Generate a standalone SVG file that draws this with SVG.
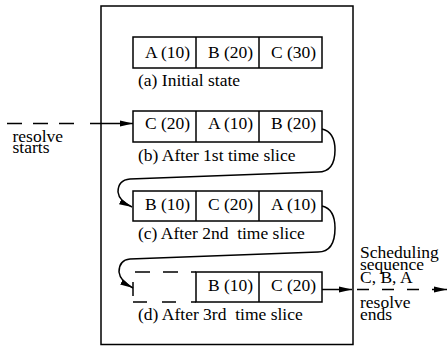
<svg xmlns="http://www.w3.org/2000/svg" width="447" height="347" viewBox="0 0 447 347">
<style>
  .t { font-family: "Liberation Serif", "Times New Roman", serif; font-size: 17.5px; fill: #000; }
  .c { text-anchor: middle; }
  .box { fill: #fff; stroke: #000; stroke-width: 1.5; }
  .ln { fill: none; stroke: #000; stroke-width: 1.5; }
</style>
<defs>
  <marker id="ah" markerWidth="13" markerHeight="7" refX="13" refY="3.5" orient="auto" markerUnits="userSpaceOnUse">
    <path d="M0,0.5 L13,3.5 L0,6.5 Z" fill="#000"/>
  </marker>
</defs>
<rect id="outer" x="101" y="6" width="252" height="338.5" class="box"/>

<g id="state-a">
  <rect x="133" y="37" width="189" height="31" class="box"/>
  <line x1="196" y1="37" x2="196" y2="68" class="ln"/>
  <line x1="259" y1="37" x2="259" y2="68" class="ln"/>
  <text x="167.5" y="57.5" class="t c">A (10)</text>
  <text x="230.5" y="57.5" class="t c">B (20)</text>
  <text x="293.5" y="57.5" class="t c">C (30)</text>
  <text x="138" y="86" class="t">(a) Initial state</text>
</g>

<g id="state-b">
  <rect x="133" y="111" width="189" height="31" class="box"/>
  <line x1="196" y1="111" x2="196" y2="142" class="ln"/>
  <line x1="259" y1="111" x2="259" y2="142" class="ln"/>
  <text x="167.5" y="128.5" class="t c">C (20)</text>
  <text x="230.5" y="128.5" class="t c">A (10)</text>
  <text x="293.5" y="128.5" class="t c">B (20)</text>
  <text x="138" y="160.5" class="t">(b) After 1st time slice</text>
</g>

<g id="state-c">
  <rect x="133" y="191" width="189" height="30" class="box"/>
  <line x1="196" y1="191" x2="196" y2="221" class="ln"/>
  <line x1="259" y1="191" x2="259" y2="221" class="ln"/>
  <text x="167.5" y="210" class="t c">B (10)</text>
  <text x="230.5" y="210" class="t c">C (20)</text>
  <text x="293.5" y="210" class="t c">A (10)</text>
  <text x="138" y="238.5" class="t" xml:space="preserve">(c) After 2nd  time slice</text>
</g>

<g id="state-d">
  <path d="M135,272 H196" class="ln" stroke-dasharray="15 13"/>
  <path d="M133,302 H196" class="ln" stroke-dasharray="14 15"/>
  <path d="M133,282 V296" class="ln"/>
  <rect x="196" y="272" width="126" height="30" class="box"/>
  <line x1="259" y1="272" x2="259" y2="302" class="ln"/>
  <text x="230.5" y="291" class="t c">B (10)</text>
  <text x="293.5" y="291" class="t c">C (20)</text>
  <text x="138" y="319.5" class="t" xml:space="preserve">(d) After 3rd  time slice</text>
</g>

<g id="labels">
  <text x="12.5" y="141.5" class="t">resolve</text>
  <text x="12.5" y="153" class="t">starts</text>
  <text x="360" y="258" class="t">Scheduling</text>
  <text x="360" y="270" class="t">sequence</text>
  <text x="360" y="282.5" class="t">C, B, A</text>
  <text x="360" y="308" class="t">resolve</text>
  <text x="360" y="320" class="t">ends</text>
</g>

<g id="connectors">
  <path d="M7,123.5 H133" class="ln" stroke-dasharray="15 11 15 11 15 16 200" marker-end="url(#ah)"/>
  <path d="M322,129 Q335,132 335,150 Q335,172 318,172 L130,179 Q118,180 118,192 Q119,201 132,207" class="ln" marker-end="url(#ah)"/>
  <path d="M322,206 Q335,209 335,228 Q335,252 318,252 L130,259 Q119,260 119,272 Q120,281 133,288" class="ln" marker-end="url(#ah)"/>
  <path d="M322,289.5 H352" class="ln" marker-end="url(#ah)"/>
  <path d="M357,289.5 H447" class="ln" stroke-dasharray="12 13 12 13 12 13 200" marker-end="url(#ah)"/>
</g>
</svg>
